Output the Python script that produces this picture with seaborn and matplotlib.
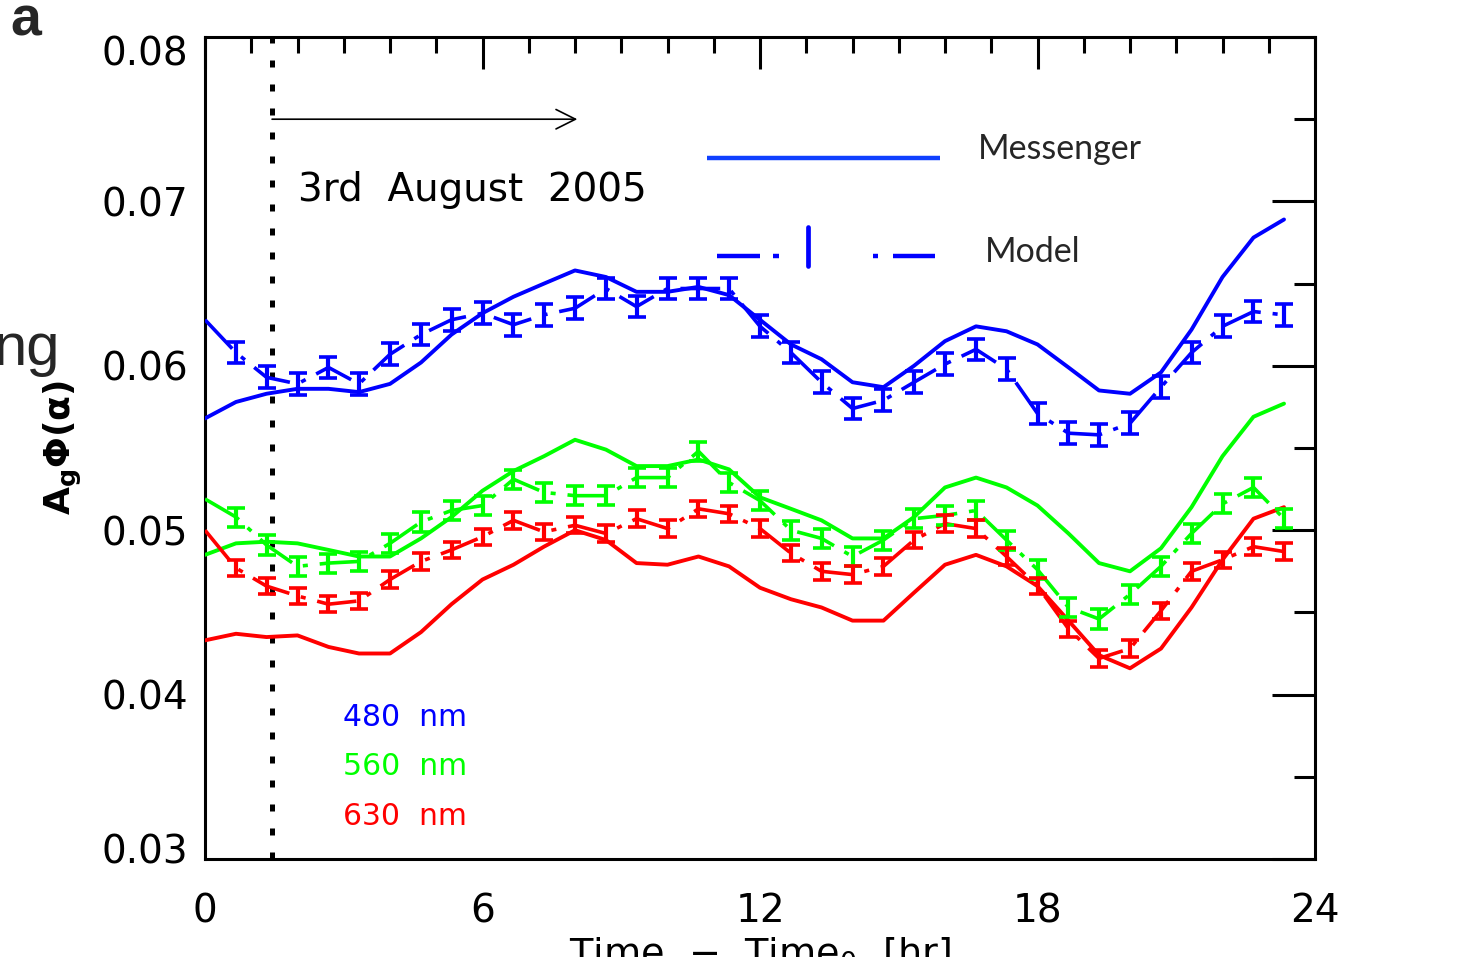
import numpy as np
import pandas as pd
import matplotlib
matplotlib.use("Agg")
import matplotlib.pyplot as plt
import matplotlib.transforms as mtransforms
import seaborn as sns
from matplotlib.ticker import MultipleLocator, FormatStrFormatter

# ---------------- data ----------------
time_hr = [0.0, 0.67, 1.33, 2.0, 2.67, 3.33, 4.0, 4.67, 5.33, 6.0, 6.67, 7.33,
           8.0, 8.67, 9.33, 10.0, 10.67, 11.33, 12.0, 12.67, 13.33, 14.0, 14.67, 15.33,
           16.0, 16.67, 17.33, 18.0, 18.67, 19.33, 20.0, 20.67, 21.33, 22.0, 22.67, 23.33]

messenger_480 = [0.0568, 0.0578, 0.0583, 0.0586, 0.0586, 0.0584, 0.0589, 0.0602, 0.0619,
                 0.0632, 0.0642, 0.0650, 0.0658, 0.0654, 0.0645, 0.0645, 0.0648, 0.0643,
                 0.0628, 0.0613, 0.0604, 0.0590, 0.0587, 0.0600, 0.0615, 0.0624, 0.0621,
                 0.0613, 0.0599, 0.0585, 0.0583, 0.0596, 0.0622, 0.0654, 0.0678, 0.0689]
model_480 = [0.0628, 0.0608, 0.0593, 0.0589, 0.0599, 0.0589, 0.0607, 0.0619, 0.0628,
             0.0632, 0.0625, 0.0631, 0.0635, 0.0647, 0.0636, 0.0647, 0.0647, 0.0647,
             0.0624, 0.0608, 0.0590, 0.0574, 0.0579, 0.0590, 0.0601, 0.0610, 0.0598,
             0.0571, 0.0559, 0.0558, 0.0565, 0.0587, 0.0608, 0.0624, 0.0633, 0.0631]

messenger_560 = [0.0485, 0.0492, 0.0493, 0.0492, 0.0488, 0.0484, 0.0484, 0.0495, 0.0508,
                 0.0524, 0.0536, 0.0545, 0.0555, 0.0549, 0.0539, 0.0539, 0.0543, 0.0537,
                 0.0520, 0.0513, 0.0506, 0.0495, 0.0495, 0.0508, 0.0526, 0.0532, 0.0526,
                 0.0515, 0.0498, 0.0480, 0.0475, 0.0489, 0.0514, 0.0545, 0.0569, 0.0577]
model_560 = [0.0519, 0.0508, 0.0491, 0.0478, 0.0480, 0.0481, 0.0492, 0.0505, 0.0512,
             0.0515, 0.0531, 0.0523, 0.0521, 0.0521, 0.0532, 0.0532, 0.0548, 0.0529,
             0.0518, 0.0500, 0.0495, 0.0484, 0.0494, 0.0507, 0.0509, 0.0512, 0.0494,
             0.0476, 0.0453, 0.0446, 0.0461, 0.0478, 0.0498, 0.0516, 0.0526, 0.0507]

messenger_630 = [0.0433, 0.0437, 0.0435, 0.0436, 0.0429, 0.0425, 0.0425, 0.0438, 0.0455,
                 0.0470, 0.0479, 0.0490, 0.0500, 0.0494, 0.0480, 0.0479, 0.0484, 0.0478,
                 0.0465, 0.0458, 0.0453, 0.0445, 0.0445, 0.0462, 0.0479, 0.0485, 0.0478,
                 0.0466, 0.0445, 0.0424, 0.0416, 0.0428, 0.0453, 0.0482, 0.0507, 0.0514]
model_630 = [0.0500, 0.0477, 0.0466, 0.0460, 0.0455, 0.0457, 0.0470, 0.0481, 0.0488,
             0.0496, 0.0506, 0.0499, 0.0503, 0.0498, 0.0507, 0.0501, 0.0513, 0.0510,
             0.0501, 0.0486, 0.0475, 0.0473, 0.0478, 0.0494, 0.0504, 0.0501, 0.0484,
             0.0466, 0.0440, 0.0422, 0.0428, 0.0451, 0.0475, 0.0482, 0.0490, 0.0487]

model_err = {"480 nm": 0.00066, "560 nm": 0.00058, "630 nm": 0.00050}

bands = ["480 nm", "560 nm", "630 nm"]
band_colors = ["#0000ff", "#00ff00", "#ff0000"]

start_time = 1.45          # dotted vertical line
arrow_end = 8.05
arrow_level = 0.075
date_label = "3rd  August  2005"
x_ticks = [0, 6, 12, 18, 24]
y_ticks = [0.03, 0.04, 0.05, 0.06, 0.07, 0.08]

# ---------------- build table ----------------
messenger = [messenger_480, messenger_560, messenger_630]
model = [model_480, model_560, model_630]
rows = []
for band, ms, md in zip(bands, messenger, model):
    for t, a, b in zip(time_hr, ms, md):
        rows.append({"time": t, "band": band, "messenger": a, "model": b})
df = pd.DataFrame(rows)

# ---------------- style ----------------
sns.set_theme(style="white")
plt.rcParams["font.family"] = ["DejaVu Sans"]
plt.rcParams["mathtext.default"] = "regular"

W, H = 1466, 957
fig = plt.figure(figsize=(W / 100, H / 100), dpi=100)
ax = fig.add_axes([205 / W, 1 - 859 / H, 1110 / W, 822 / H])

palette = dict(zip(bands, band_colors))
sns.lineplot(data=df, x="time", y="messenger", hue="band", palette=palette,
             lw=2.8, legend=False, ax=ax, estimator=None, sort=False, zorder=3)

for band, color in zip(bands, band_colors):
    sub = df[df["band"] == band]
    ax.plot(sub["time"], sub["model"], color=color, lw=2.6,
            dashes=(11, 3.3, 1.4, 3.3), zorder=4)
    ax.errorbar(sub["time"].iloc[1:], sub["model"].iloc[1:], yerr=model_err[band],
                fmt="none", ecolor=color, elinewidth=3.0, capsize=6.5,
                capthick=2.6, zorder=5)

ax.set_xlim(0, 24)
ax.set_ylim(0.03, 0.08)
ax.set_xticks(x_ticks)
ax.set_yticks(y_ticks)
ax.xaxis.set_minor_locator(MultipleLocator(1))
ax.yaxis.set_minor_locator(MultipleLocator(0.005))
ax.yaxis.set_major_formatter(FormatStrFormatter("%.2f"))
ax.tick_params(which="both", direction="in", top=True, right=True,
               width=2.2, color="black", labelcolor="black", labelsize=28)
ax.tick_params(axis="y", which="major", length=31, pad=12)
ax.tick_params(axis="y", which="minor", length=15)
ax.tick_params(axis="x", which="major", length=23, pad=24)
ax.tick_params(axis="x", which="minor", length=11.5)
for s in ax.spines.values():
    s.set_visible(True)
    s.set_color("black")
    s.set_linewidth(2.2)

# end y tick labels sit inside the axis range, as in the reference
yt = ax.yaxis.get_major_ticks()
yt[0].label1.set_transform(yt[0].label1.get_transform() +
                           mtransforms.ScaledTranslation(0, 11 / 100, fig.dpi_scale_trans))
yt[-1].label1.set_transform(yt[-1].label1.get_transform() +
                            mtransforms.ScaledTranslation(0, -13 / 100, fig.dpi_scale_trans))

# dotted start line and arrow
ax.axvline(start_time, color="black", lw=3.6, dashes=(1.4, 3.4), zorder=2)
ax.annotate("", xy=(arrow_end, arrow_level), xytext=(start_time, arrow_level),
            arrowprops=dict(arrowstyle="->", lw=1.2, color="black",
                            mutation_scale=35, shrinkA=0, shrinkB=0))
ax.text(2.0, 0.0707, date_label, fontsize=28, color="black", va="center", ha="left")

# wavelength labels
for band, color, yv in zip(bands, band_colors, [0.03858, 0.03560, 0.03256]):
    ax.text(2.98, yv, band.replace(" ", "  "), color=color, fontsize=21.5,
            va="center", ha="left")

# custom legend (Messenger / Model keys)
key_y1, key_y2 = 0.07264, 0.06668
ax.plot([10.85, 15.89], [key_y1, key_y1], color="#1040ff", lw=3.2, solid_capstyle="butt")
for xa, xb in [(11.07, 12.0), (12.28, 12.41), (14.44, 14.55), (14.88, 15.78)]:
    ax.plot([xa, xb], [key_y2, key_y2], color="#0000ff", lw=3.2, solid_capstyle="butt")
ax.plot([13.04, 13.04], [0.06607, 0.06844], color="#0000ff", lw=3.4,
        solid_capstyle="round")
ax.text(16.71, 0.07319, "Messenger", fontsize=24.5, family="Lato", va="center", ha="left")
ax.text(16.86, 0.06692, "Model", fontsize=24.5, family="Lato", va="center", ha="left")

# axis labels
ax.set_xlabel("Time  −  Time$_0$  [hr]", fontsize=27.5, color="black", va="top")
ax.xaxis.set_label_coords(0.5, -0.0925)
ax.set_ylabel("A$_g$Φ(α)", fontsize=26, fontweight="bold", color="black")
ax.yaxis.set_label_coords(-0.109, 0.5)

# panel letter and clipped neighbouring text
fig.text(10 / W, 1 - 36 / H, "a", fontsize=40, fontweight="bold",
         family="Liberation Sans", va="baseline", ha="left")
fig.text(60 / W, 1 - 365 / H, "ng", fontsize=43, family="Liberation Sans",
         va="baseline", ha="right")

fig.savefig("out.png", dpi=100)
